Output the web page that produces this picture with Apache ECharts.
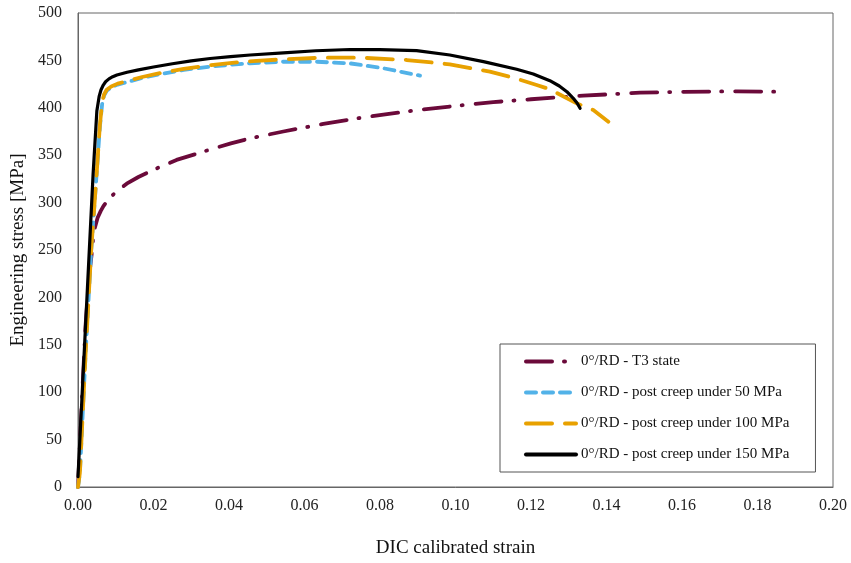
<!DOCTYPE html>
<html>
<head>
<meta charset="utf-8">
<script src="https://cdn.jsdelivr.net/npm/echarts@6/dist/echarts.min.js"></script>
<style>
    html, body { margin: 0; padding: 0; background: #fff; }
    #chart { width: 851px; height: 563px; }
</style>
</head>
<body>
<div id="chart"></div>
<script>
// strain / stress pairs
const t3Strain = [0, 0.001, 0.002, 0.003, 0.0036, 0.004, 0.0045, 0.0052, 0.006, 0.0067, 0.0078, 0.0098, 0.0129, 0.016, 0.019, 0.0225, 0.0261, 0.031, 0.0358, 0.0405, 0.0456, 0.0544, 0.065, 0.075, 0.085, 0.0915, 0.1, 0.11, 0.12, 0.1338, 0.1489, 0.159, 0.1745, 0.1845];
const t3Stress = [0, 88, 170, 225, 245, 262, 274, 284, 291, 296, 302, 310.4, 320, 327, 332.6, 339, 345, 351, 357, 362.5, 367.8, 375, 383, 389.5, 395, 398.4, 402, 406, 409, 412.8, 416, 416.8, 417.4, 417];

const c50Strain = [0, 0.0005, 0.002, 0.0035, 0.005, 0.0058, 0.0064, 0.0069, 0.0076, 0.0088, 0.0105, 0.0129, 0.017, 0.0217, 0.028, 0.035, 0.0408, 0.0456, 0.0544, 0.0632, 0.072, 0.0809, 0.0906];
const c50Stress = [0, 15, 140, 250, 334, 380, 404, 413, 418, 421.5, 424.5, 427, 431.5, 435.5, 440, 443.5, 445.5, 446.9, 448.6, 448.6, 446.9, 441.7, 433.9];

const c100Strain = [0, 0.0005, 0.002, 0.0035, 0.005, 0.0058, 0.0064, 0.0069, 0.0076, 0.0088, 0.0105, 0.0129, 0.017, 0.0217, 0.028, 0.035, 0.0408, 0.0473, 0.0544, 0.065, 0.0747, 0.0871, 0.0985, 0.1091, 0.1155, 0.1215, 0.125, 0.1321, 0.1365, 0.1405];
const c100Stress = [0, 15, 140, 250, 334, 382, 406, 414, 419, 422.5, 425.5, 428, 432.5, 436.5, 441, 445, 447.5, 449.6, 451.1, 452.9, 452.9, 450.4, 445.9, 438.1, 431.5, 424, 419.5, 404.7, 397.7, 385.4];

const c150Strain = [0, 0.001, 0.0025, 0.004, 0.005, 0.0056, 0.0061, 0.0067, 0.0073, 0.0082, 0.0092, 0.0103, 0.013, 0.016, 0.02, 0.025, 0.03, 0.035, 0.0404, 0.0456, 0.0544, 0.063, 0.072, 0.08, 0.0897, 0.0985, 0.1074, 0.1162, 0.1206, 0.125, 0.1275, 0.1295, 0.1312, 0.1322, 0.133];
const c150Stress = [11, 90, 210, 330, 397, 412, 419, 424, 427.5, 430.5, 432.8, 434.6, 437.5, 440, 443, 446.5, 449.5, 452, 454, 455.7, 458, 460.2, 461.5, 461.3, 460.3, 455.7, 448.7, 440.6, 435.7, 428.6, 423, 417, 410, 405, 399.5];

const seriesNames = [
    '0°/RD - T3 state',
    '0°/RD - post creep under 50 MPa',
    '0°/RD - post creep under 100 MPa',
    '0°/RD - post creep under 150 MPa'
];

const zip = (xs, ys) => xs.map((x, i) => [x, ys[i]]);
const font = '"Liberation Serif", "Times New Roman", serif';

const makeLine = (name, data, color, width, type) => ({
    name: name,
    type: 'line',
    data: data,
    showSymbol: false,
    symbol: 'none',
    smooth: false,
    lineStyle: { color: color, width: width, type: type, cap: 'round', join: 'round' },
    itemStyle: { color: color },
    animation: false
});

let option = {
    backgroundColor: '#fff',
    grid: {
        left: 78,
        right: 18,
        top: 13,
        bottom: 76,
        show: true,
        borderColor: '#666',
        borderWidth: 1
    },
    legend: {
        orient: 'vertical',
        left: 500,
        top: 344,
        itemWidth: 50,
        itemHeight: 8,
        itemGap: 16,
        padding: [10, 26, 10, 24],
        backgroundColor: '#fff',
        borderColor: '#555',
        borderWidth: 1,
        itemStyle: { opacity: 0 },
        lineStyle: { width: 4 },
        textStyle: { fontFamily: font, fontSize: 15, color: '#111' },
        data: seriesNames
    },
    xAxis: {
        type: 'value',
        min: 0,
        max: 0.2,
        interval: 0.02,
        name: 'DIC calibrated strain',
        nameLocation: 'middle',
        nameGap: 52,
        nameTextStyle: { fontFamily: font, fontSize: 19, color: '#111' },
        axisLine: { lineStyle: { color: '#666', width: 1 } },
        axisTick: { show: false },
        splitLine: { show: false },
        axisLabel: {
            fontFamily: font, fontSize: 16, color: '#222', margin: 11,
            formatter: v => v.toFixed(2)
        }
    },
    yAxis: {
        type: 'value',
        min: 0,
        max: 500,
        interval: 50,
        name: 'Engineering stress [MPa]',
        nameLocation: 'middle',
        nameGap: 46,
        nameTextStyle: { fontFamily: font, fontSize: 19, color: '#111' },
        axisLine: { show: true, lineStyle: { color: '#666', width: 1 } },
        axisTick: { show: false },
        splitLine: { show: false },
        axisLabel: { fontFamily: font, fontSize: 16, color: '#222', margin: 16 }
    },
    series: [
        makeLine(seriesNames[0], zip(t3Strain, t3Stress), '#6B0A3A', 3.8, [26, 12, 1, 13]),
        makeLine(seriesNames[1], zip(c50Strain, c50Stress), '#52B2E8', 3.8, [10, 7]),
        makeLine(seriesNames[2], zip(c100Strain, c100Stress), '#E8A100', 3.8, [26, 13]),
        makeLine(seriesNames[3], zip(c150Strain, c150Stress), '#000000', 3.2, 'solid')
    ]
};

const chartInit = () => {
    let myChart = echarts.init(document.getElementById('chart'));
    option && myChart.setOption(option);
}

chartInit();
</script>
</body>
</html>
